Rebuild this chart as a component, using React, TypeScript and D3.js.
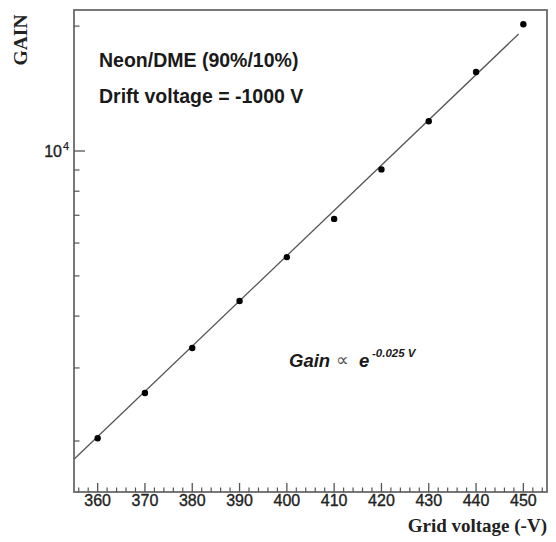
import React from "react";
import * as d3 from "d3";

const voltages = [360, 370, 380, 390, 400, 410, 420, 430, 440, 450];
const gains = [2030, 2610, 3350, 4350, 5550, 6860, 9030, 11800, 15500, 20200];
const fitVoltages = [355, 449];
const fitGains = [1807, 19140];
const xMajorTicks = [360, 370, 380, 390, 400, 410, 420, 430, 440, 450];
const xMinorTicks = d3.range(356, 455, 2).filter((v) => v % 10 !== 0);
const yMinorTicks = [2000, 3000, 4000, 5000, 6000, 7000, 8000, 9000, 20000];
const yMajorTicks = [10000];

const W = 556;
const H = 542;
const L = 74, R = 547, T = 10, B = 492;

export default function App() {
  const x = d3.scaleLinear().domain([355, 455]).range([L, R]);
  const y = d3.scaleLog().domain([1507, 21870]).range([B, T]);
  const line = d3
    .line<number>()
    .x((_, i) => x(fitVoltages[i]))
    .y((d) => y(d));
  const sans = "'Liberation Sans', Arial, sans-serif";
  const serif = "'Liberation Serif', 'Times New Roman', serif";
  return (
    <svg width={W} height={H} style={{ position: "absolute", left: 0, top: 0, background: "#fff" }}>
      <rect x={0} y={0} width={W} height={H} fill="#fff" />
      {/* fit line */}
      <path d={line(fitGains) || ""} fill="none" stroke="#555" strokeWidth={1.3} />
      {/* points */}
      {voltages.map((v, i) => (
        <circle key={v} cx={x(v)} cy={y(gains[i])} r={3.2} fill="#000" />
      ))}
      {/* frame */}
      <rect x={L} y={T} width={R - L} height={B - T} fill="none" stroke="#6a6a6a" strokeWidth={1.8} />
      {/* x ticks */}
      {xMajorTicks.map((v) => (
        <g key={"xm" + v}>
          <line x1={x(v)} x2={x(v)} y1={B} y2={B - 9} stroke="#555" strokeWidth={1.3} />
          <text x={x(v)} y={506} textAnchor="middle" fontFamily={sans} fontSize={16} fill="#222" stroke="#222" strokeWidth={0.35}>
            {v}
          </text>
        </g>
      ))}
      {xMinorTicks.map((v) => (
        <line key={"xn" + v} x1={x(v)} x2={x(v)} y1={B} y2={B - 4.5} stroke="#555" strokeWidth={1.2} />
      ))}
      {/* y ticks */}
      {yMajorTicks.map((v) => (
        <g key={"ym" + v}>
          <line x1={L} x2={L + 11} y1={y(v)} y2={y(v)} stroke="#555" strokeWidth={1.3} />
          <text x={62} y={y(v) + 6} textAnchor="end" fontFamily={sans} fontSize={16} fill="#222" stroke="#222" strokeWidth={0.35}>
            10
          </text>
          <text x={63} y={y(v) - 1} textAnchor="start" fontFamily={sans} fontSize={11} fill="#222" stroke="#222" strokeWidth={0.25}>
            4
          </text>
        </g>
      ))}
      {yMinorTicks.map((v) => (
        <line key={"yn" + v} x1={L} x2={L + 5.5} y1={y(v)} y2={y(v)} stroke="#555" strokeWidth={1.2} />
      ))}
      {/* axis titles */}
      <text
        transform="translate(27,40) rotate(-90)"
        textAnchor="middle"
        fontFamily={serif}
        fontWeight="bold"
        fontSize={19.5}
        fill="#222"
      >
        GAIN
      </text>
      <text x={547} y={531.5} textAnchor="end" fontFamily={serif} fontWeight="bold" fontSize={19} fill="#222">
        Grid voltage (-V)
      </text>
      {/* annotations */}
      <text x={99} y={66.7} fontFamily={sans} fontWeight="bold" fontSize={19.5} fill="#1a1a1a">
        Neon/DME (90%/10%)
      </text>
      <text x={99} y={103.3} fontFamily={sans} fontWeight="bold" fontSize={19.5} fill="#1a1a1a">
        Drift voltage = -1000 V
      </text>
      <text x={289} y={366.7} fontFamily={sans} fontWeight="bold" fontStyle="italic" fontSize={18.5} fill="#1a1a1a">
        Gain
      </text>
      <text x={342.5} y={365.5} textAnchor="middle" fontFamily="'DejaVu Sans', sans-serif" fontSize={18} fill="#555">
        ∝
      </text>
      <text x={359} y={366.7} fontFamily={sans} fontWeight="bold" fontStyle="italic" fontSize={18.5} fill="#1a1a1a">
        e
      </text>
      <text x={372} y={356.5} fontFamily={sans} fontWeight="bold" fontStyle="italic" fontSize={11.5} fill="#1a1a1a">
        -0.025 V
      </text>
    </svg>
  );
}
